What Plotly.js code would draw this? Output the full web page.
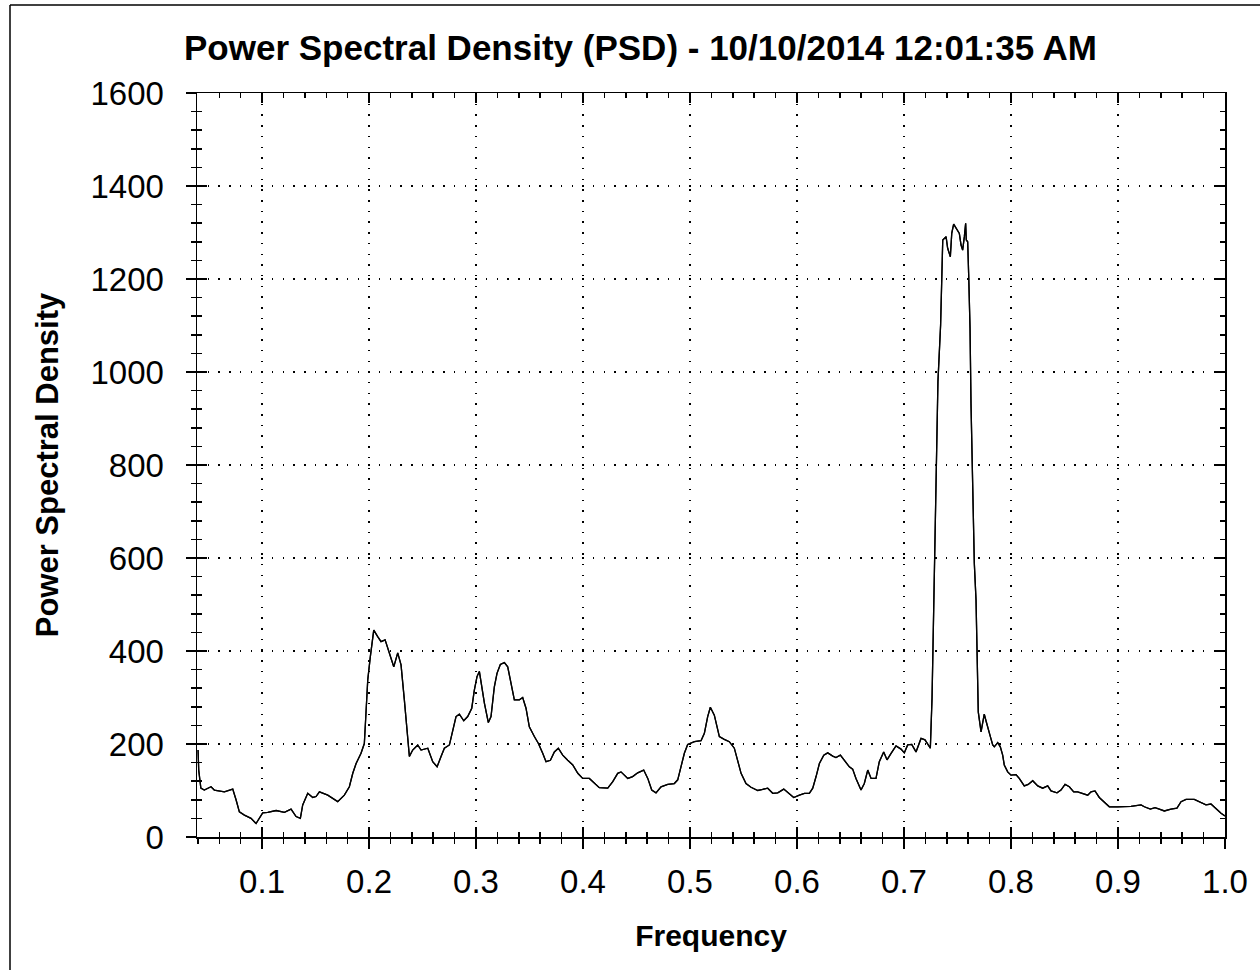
<!DOCTYPE html>
<html>
<head>
<meta charset="utf-8">
<script src="https://cdn.plot.ly/plotly-3.0.1.min.js"></script>
<style>
  html, body { margin: 0; padding: 0; background: #ffffff; }
  #chart { width: 1260px; height: 970px; }
</style>
</head>
<body>
<div id="chart"></div>
<script>
// Frequency axis values
const freq = [
  0.0402, 0.0408, 0.0428, 0.046, 0.0523, 0.0554, 0.0648, 0.0726, 0.0757, 0.0788,
  0.0835, 0.0897, 0.0944, 0.1006, 0.1053, 0.1131, 0.1209, 0.1271, 0.1318, 0.1358,
  0.138, 0.1427, 0.1474, 0.1505, 0.1536, 0.1614, 0.1707, 0.1769, 0.1816, 0.1848,
  0.1879, 0.1925, 0.1956, 0.1972, 0.1988, 0.2012, 0.2025, 0.2044, 0.2081, 0.2112,
  0.215, 0.219, 0.2231, 0.2268, 0.2299, 0.233, 0.2362, 0.2377, 0.2408, 0.2455,
  0.2486, 0.2549, 0.2595, 0.2636, 0.2673,
  0.2704, 0.2751, 0.2782, 0.2813, 0.2844, 0.2885, 0.2922, 0.296, 0.2984, 0.3009,
  0.3031, 0.3053, 0.3078, 0.3115, 0.314, 0.3171, 0.3196, 0.3227, 0.3265, 0.3296,
  0.3327, 0.3358, 0.3405, 0.3436, 0.3467, 0.3498, 0.3545, 0.3583, 0.3623, 0.3654,
  0.3695, 0.3732, 0.3769, 0.381, 0.3857, 0.3904, 0.3951, 0.3997, 0.4059, 0.4106,
  0.4152, 0.4231, 0.4278, 0.4324, 0.4355, 0.4418, 0.4464, 0.4511, 0.4567, 0.4605,
  0.4642, 0.4682, 0.4729, 0.4792, 0.4853, 0.4885, 0.4916, 0.4947, 0.4978, 0.5041,
  0.5103,
  0.5134, 0.5165, 0.519, 0.5227, 0.5274, 0.532, 0.5367, 0.5414, 0.5445, 0.5477,
  0.5523, 0.557, 0.5633, 0.5679, 0.5726, 0.5773, 0.582, 0.5876, 0.5919, 0.5969,
  0.6022, 0.6069, 0.6115, 0.6147, 0.6178, 0.6209, 0.625, 0.6287, 0.6334, 0.6364,
  0.6405, 0.6442, 0.6489, 0.652, 0.6551, 0.6598, 0.6629, 0.6661, 0.6692, 0.6738,
  0.6769, 0.681, 0.6841, 0.6879, 0.6925, 0.6972, 0.7003, 0.7034, 0.7072, 0.7112,
  0.7159, 0.7196, 0.7246,
  0.7262, 0.7285, 0.7301, 0.7317, 0.7342, 0.7355, 0.7362, 0.7393, 0.7408, 0.7433,
  0.7446, 0.7464, 0.748, 0.7495, 0.7517, 0.7533, 0.7548, 0.7564, 0.7576, 0.7582,
  0.7595, 0.7604, 0.7617, 0.7626, 0.7642, 0.7657, 0.7673, 0.7689, 0.7694,
  0.772, 0.7736, 0.775, 0.7766, 0.7782, 0.7807, 0.7829, 0.7844, 0.7876, 0.79,
  0.7922, 0.7937, 0.7969, 0.8, 0.8047, 0.8077, 0.8124, 0.8161, 0.8203, 0.825,
  0.8296, 0.8343, 0.8374, 0.843, 0.8467, 0.8505, 0.8545, 0.8586, 0.8623, 0.867,
  0.8717, 0.8748, 0.8785, 0.8825, 0.8872, 0.8919, 0.8997, 0.909, 0.9121, 0.9215,
  0.9246, 0.9302, 0.9346, 0.9386, 0.9433, 0.9495, 0.9551, 0.9589, 0.9636, 0.9713,
  0.9769, 0.9822, 0.9869, 0.9916, 0.9963, 1.0
];

// Power spectral density values
const psd = [
  187, 144, 105, 101, 108, 101, 97, 103, 80, 54,
  47, 40, 29, 52, 53, 57, 53, 60, 44, 40,
  69, 94, 85, 87, 97, 90, 76, 90, 108, 137,
  158, 180, 201, 273, 338, 388, 409, 445, 431, 420,
  424, 395, 366, 396, 370, 295, 209, 173, 187, 198,
  187, 191, 162, 151, 173,
  191, 198, 230, 259, 264, 250, 259, 277, 316, 345,
  356, 323, 288, 246, 259, 323, 352, 371, 375, 366,
  331, 295, 295, 300, 277, 237, 216, 201, 180, 162,
  165, 183, 191, 176, 165, 155, 137, 126, 126, 115,
  106, 105, 119, 137, 140, 126, 130, 138, 144, 126,
  101, 95, 108, 113, 115, 123, 151, 180, 199, 205,
  207,
  223, 259, 279, 262, 216, 210, 205, 191, 166, 137,
  115, 107, 100, 103, 105, 94, 95, 103, 94, 85,
  90, 94, 94, 105, 130, 158, 176, 181, 174, 171,
  176, 166, 151, 146, 126, 101, 115, 144, 126, 126,
  162, 183, 166, 180, 196, 189, 181, 198, 199, 183,
  212, 209, 191,
  300, 560, 796, 979, 1101, 1219, 1284, 1291, 1266, 1248,
  1298, 1318, 1311, 1305, 1298, 1273, 1262, 1291, 1320, 1284,
  1280, 1212, 1094, 932, 775, 589, 510, 338, 269,
  226, 252, 264, 250, 234, 216, 198, 194, 203, 194,
  176, 155, 140, 133, 134, 126, 110, 113, 121, 110,
  105, 110, 99, 95, 101, 113, 108, 97, 97, 94,
  90, 97, 99, 85, 74, 65, 65, 65, 66, 69,
  65, 60, 63, 60, 56, 60, 62, 76, 81, 81,
  74, 69, 71, 60, 51, 45
];

// Tick values and labels
const xTickVals = [0.1, 0.2, 0.3, 0.4, 0.5, 0.6, 0.7, 0.8, 0.9, 1.0];
const xTickText = ["0.1", "0.2", "0.3", "0.4", "0.5", "0.6", "0.7", "0.8", "0.9", "1.0"];
const yTickVals = [0, 200, 400, 600, 800, 1000, 1200, 1400, 1600];
const yTickText = ["0", "200", "400", "600", "800", "1000", "1200", "1400", "1600"];
const xRange = [0.0392, 1.0];
const yRange = [0, 1600];

const titleText = "Power Spectral Density (PSD) - 10/10/2014 12:01:35 AM";
const xTitle = "Frequency";
const yTitle = "Power Spectral Density";

const FONT = "Liberation Sans, Arial, sans-serif";
const W = 1260, H = 970;
const M = { l: 197, r: 35, t: 93, b: 133 };
const plotW = W - M.l - M.r, plotH = H - M.t - M.b;

const lineStyle = { color: "#000000", width: 1.3 };

const traces = [
  { x: freq, y: psd, type: "scatter", mode: "lines", line: lineStyle,
    xaxis: "x", yaxis: "y", hoverinfo: "x+y", showlegend: false },
  { x: freq, y: psd, type: "scatter", mode: "lines", line: lineStyle,
    xaxis: "x2", yaxis: "y2", hoverinfo: "skip", showlegend: false }
];

const gridDash = "1.5px,9.2px";
const AXW = 1.5;

const layout = {
  width: W, height: H,
  margin: M,
  paper_bgcolor: "#ffffff",
  plot_bgcolor: "#ffffff",
  showlegend: false,
  font: { family: FONT, color: "#000000" },
  title: {
    text: titleText,
    font: { family: FONT, size: 35, weight: 700, color: "#000000" },
    xref: "container", x: 184 / W, xanchor: "left",
    yref: "container", y: 1 - 48 / H, yanchor: "middle"
  },
  xaxis: {
    range: xRange, tickmode: "array", tickvals: xTickVals, ticktext: xTickText,
    ticks: "outside", ticklen: 10, tickwidth: AXW, tickcolor: "#000000",
    minor: { tickmode: "linear", tick0: 0, dtick: 0.02, ticks: "outside", ticklen: 5,
             tickwidth: AXW, tickcolor: "#000000", showgrid: false },
    showline: true, linecolor: "#000000", linewidth: AXW,
    showgrid: true, gridcolor: "#000000", gridwidth: 1.3, griddash: gridDash,
    zeroline: false, tickfont: { family: FONT, size: 33, color: "#000000" },
    ticklabelstandoff: 5,
    title: { text: xTitle, font: { family: FONT, size: 30, weight: 700, color: "#000000" }, standoff: 26 },
    anchor: "y", automargin: false
  },
  yaxis: {
    range: yRange, tickmode: "array", tickvals: yTickVals, ticktext: yTickText,
    ticks: "outside", ticklen: 10, tickwidth: AXW, tickcolor: "#000000",
    minor: { tickmode: "linear", tick0: 0, dtick: 40, ticks: "outside", ticklen: 5,
             tickwidth: AXW, tickcolor: "#000000", showgrid: false },
    showline: true, linecolor: "#000000", linewidth: AXW,
    showgrid: true, gridcolor: "#000000", gridwidth: 1.3, griddash: gridDash,
    zeroline: false, tickfont: { family: FONT, size: 33, color: "#000000" },
    ticklabelstandoff: 15,
    title: { text: yTitle, font: { family: FONT, size: 31, weight: 700, color: "#000000" }, standoff: 22 },
    anchor: "x", automargin: false
  },
  xaxis2: {
    overlaying: "x", anchor: "y2", side: "bottom", range: xRange,
    tickmode: "array", tickvals: xTickVals,
    ticks: "inside", ticklen: 10, tickwidth: AXW, tickcolor: "#000000",
    minor: { tickmode: "linear", tick0: 0, dtick: 0.02, ticks: "inside", ticklen: 5,
             tickwidth: AXW, tickcolor: "#000000", showgrid: false },
    showline: true, linecolor: "#000000", linewidth: AXW, mirror: "ticks",
    showgrid: false, zeroline: false, showticklabels: false
  },
  yaxis2: {
    overlaying: "y", anchor: "x2", side: "left", range: yRange,
    tickmode: "array", tickvals: yTickVals,
    ticks: "inside", ticklen: 10, tickwidth: AXW, tickcolor: "#000000",
    minor: { tickmode: "linear", tick0: 0, dtick: 40, ticks: "inside", ticklen: 5,
             tickwidth: AXW, tickcolor: "#000000", showgrid: false },
    showline: true, linecolor: "#000000", linewidth: AXW, mirror: "ticks",
    showgrid: false, zeroline: false, showticklabels: false
  },
  shapes: [
    // outer frame of the picture (left and top edges)
    { type: "line", xref: "paper", yref: "paper",
      x0: (10 - M.l) / plotW, x1: (10 - M.l) / plotW,
      y0: (H - M.b - 5) / plotH, y1: (H - M.b - H - 10) / plotH,
      line: { color: "#000000", width: 1.5 } },
    { type: "line", xref: "paper", yref: "paper",
      x0: (10 - M.l) / plotW, x1: (W + 10 - M.l) / plotW,
      y0: (H - M.b - 5) / plotH, y1: (H - M.b - 5) / plotH,
      line: { color: "#000000", width: 1.5 } }
  ]
};

Plotly.newPlot("chart", traces, layout, { staticPlot: true, displayModeBar: false });
</script>
</body>
</html>
